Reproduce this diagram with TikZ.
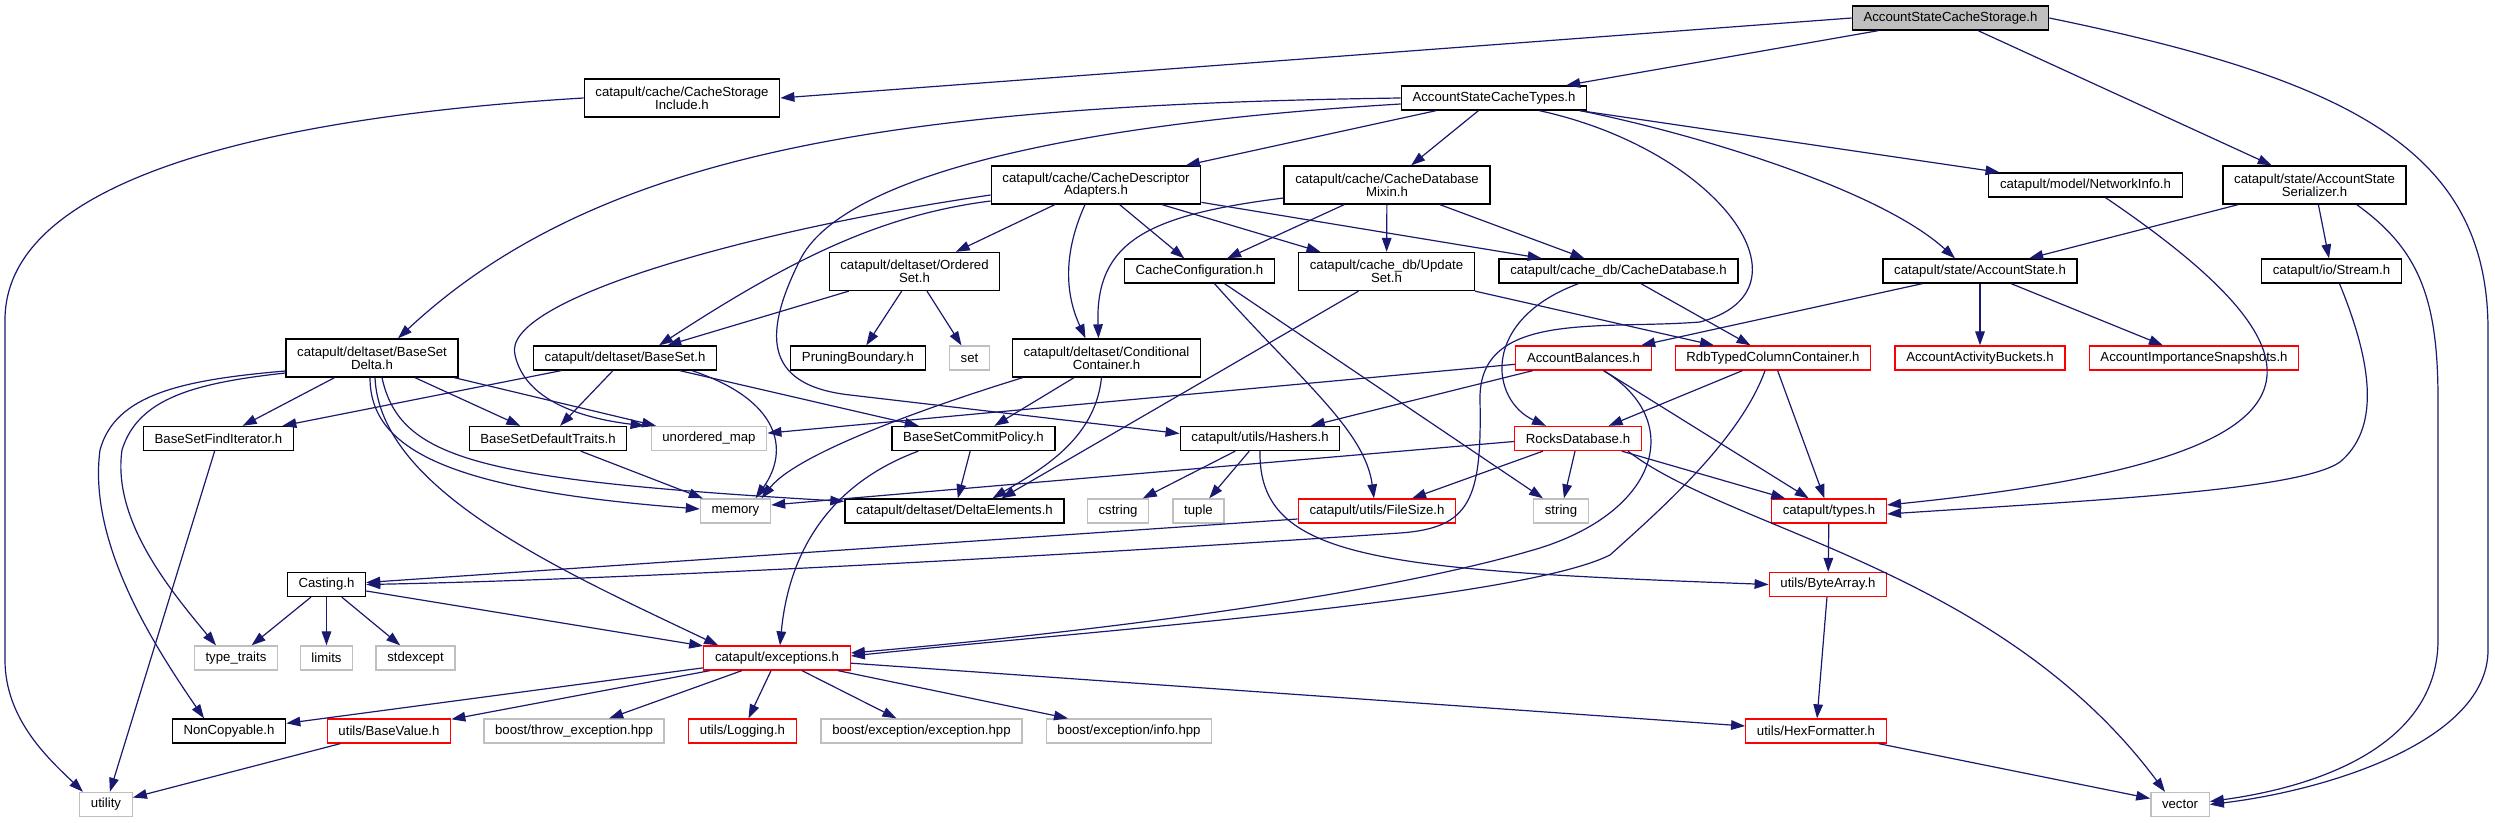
\documentclass[tikz,border=0pt]{standalone}
\usepackage{fontspec}
\setmainfont{Liberation Sans}
\usetikzlibrary{arrows.meta,calc}
\definecolor{edgeblue}{HTML}{191970}
\definecolor{boxgray}{HTML}{BFBFBF}

\begin{document}
\begin{tikzpicture}[
  x=0.5pt, y=-0.5pt,
  font=\fontsize{6.6}{6.4}\selectfont,
  box/.style={draw=black, line width=0.65pt, align=center, inner xsep=5.6pt, inner ysep=1pt, minimum height=12pt},
  two/.style={minimum height=19pt},
  extbox/.style={box, draw=boxgray},
  redbox/.style={box, draw=red},
  arr/.style={-{Triangle[length=7pt,width=4.8pt]}, edgeblue, line width=0.6pt}
]
\useasboundingbox (0,0) rectangle (2495,823);
\node[box, fill=boxgray] (root) at (1950.5,18) {AccountStateCacheStorage.h};
\node[box, two] (csi) at (682,98) {catapult/cache/CacheStorage\\Include.h};
\node[box] (types) at (1494,98) {AccountStateCacheTypes.h};
\node[box, two] (cda) at (1096,185) {catapult/cache/CacheDescriptor\\Adapters.h};
\node[box, two] (cdm) at (1387,185) {catapult/cache/CacheDatabase\\Mixin.h};
\node[box] (netinfo) at (2085.5,185) {catapult/model/NetworkInfo.h};
\node[box, two] (ser) at (2314.5,185) {catapult/state/AccountState\\Serializer.h};
\node[box, two] (oset) at (914.5,271.5) {catapult/deltaset/Ordered\\Set.h};
\node[box] (cconf) at (1199.5,271) {CacheConfiguration.h};
\node[box, two] (uset) at (1386.5,271.5) {catapult/cache\_db/Update\\Set.h};
\node[box] (cdb) at (1618.5,271) {catapult/cache\_db/CacheDatabase.h};
\node[box] (astate) at (1980,271) {catapult/state/AccountState.h};
\node[box] (stream) at (2331.5,271) {catapult/io/Stream.h};
\node[box, two] (bsdelta) at (372,358) {catapult/deltaset/BaseSet\\Delta.h};
\node[box] (bset) at (625,358) {catapult/deltaset/BaseSet.h};
\node[box] (prune) at (858,358) {PruningBoundary.h};
\node[extbox] (set) at (969.5,358) {set};
\node[box, two] (cond) at (1106.5,358) {catapult/deltaset/Conditional\\Container.h};
\node[redbox] (abal) at (1583.5,358) {AccountBalances.h};
\node[redbox] (rdb) at (1773,358) {RdbTypedColumnContainer.h};
\node[redbox] (buckets) at (1980,358) {AccountActivityBuckets.h};
\node[redbox] (snaps) at (2194,358) {AccountImportanceSnapshots.h};
\node[box] (finditer) at (218.5,438.5) {BaseSetFindIterator.h};
\node[box] (deftraits) at (548,438.5) {BaseSetDefaultTraits.h};
\node[extbox] (umap) at (709,438.5) {unordered\_map};
\node[box] (commit) at (973.5,438.5) {BaseSetCommitPolicy.h};
\node[box] (hashers) at (1260,438.5) {catapult/utils/Hashers.h};
\node[redbox] (rocks) at (1578,438.5) {RocksDatabase.h};
\node[extbox] (memory) at (735.5,511) {memory};
\node[box] (delta) at (954.5,511) {catapult/deltaset/DeltaElements.h};
\node[extbox] (cstring) at (1118,511) {cstring};
\node[extbox] (tuple) at (1198.5,511) {tuple};
\node[redbox] (filesize) at (1377,511) {catapult/utils/FileSize.h};
\node[extbox] (string) at (1561,511) {string};
\node[redbox] (ctypes) at (1829,511) {catapult/types.h};
\node[box] (casting) at (326.5,584.5) {Casting.h};
\node[redbox] (bytearr) at (1828,584.5) {utils/ByteArray.h};
\node[extbox] (ttraits) at (236,658) {type\_traits};
\node[extbox] (limits) at (326.5,658) {limits};
\node[extbox] (stdexc) at (415.5,658) {stdexcept};
\node[redbox] (exc) at (777,658) {catapult/exceptions.h};
\node[box] (noncopy) at (229,731) {NonCopyable.h};
\node[redbox] (basevalue) at (389,731) {utils/BaseValue.h};
\node[extbox] (throwexc) at (574,731) {boost/throw\_exception.hpp};
\node[redbox] (logging) at (742.5,731) {utils/Logging.h};
\node[extbox] (bexc) at (921.5,731) {boost/exception/exception.hpp};
\node[extbox] (binfo) at (1129,731) {boost/exception/info.hpp};
\node[redbox] (hexfmt) at (1816,731) {utils/HexFormatter.h};
\node[extbox] (utility) at (106,804.5) {utility};
\node[extbox] (vector) at (2180,804.5) {vector};
\draw[arr] (root.west) -- (csi.east);
\draw[arr] (root) -- (types);
\draw[arr] (root) -- (ser);
\draw[arr] (root.east) .. controls (2350,80) and (2488,150) .. (2488,330) -- (2488,650) .. controls (2488,740) and (2330,790) .. (vector.east);
\draw[arr] (csi.west) .. controls (300,115) and (5,170) .. (5,320) -- (5,660) .. controls (5,720) and (50,760) .. ($(utility.north)+(-23,0)$);
\draw[arr] (types.west) .. controls (900,105) and (600,150) .. ($(bsdelta.north)+(26,0)$);
\draw[arr] ($(types.west)+(0,6)$) .. controls (1050,125) and (840,180) .. (800,260) .. controls (765,330) and (760,385) .. (850,395) -- ($(hashers.west)+(0,-5)$);
\draw[arr] (types) -- (cda);
\draw[arr] (types) -- (cdm);
\draw[arr] ($(types.south east)+(-48,0)$) .. controls (1720,150) and (1820,290) .. (1700,322) .. controls (1600,330) and (1478,310) .. (1480,400) .. controls (1482,500) and (1470,528) .. (1400,533) .. controls (1000,560) and (600,580) .. (casting.east);
\draw[arr] ($(types.south east)+(-7,0)$) .. controls (1700,135) and (1880,190) .. ($(astate.north)+(-25,0)$);
\draw[arr] (types) -- (netinfo);
\draw[arr] (cda) -- (oset);
\draw[arr] ($(cda.south)+(-11,0)$) .. controls (1060,260) and (1068,300) .. ($(cond.north)+(-21,0)$);
\draw[arr] (cda) -- (cconf);
\draw[arr] (cda) -- (uset);
\draw[arr] (cda) -- (cdb);
\draw[arr] ($(cda.west)+(0,16)$) .. controls (880,215) and (790,260) .. ($(bset.north)+(34,0)$);
\draw[arr] ($(cda.west)+(0,10)$) .. controls (750,230) and (500,300) .. (515,355) .. controls (525,400) and (580,418) .. ($(umap.north west)+(-6,0)$);
\draw[arr] (cdm) -- (cconf);
\draw[arr] (cdm) -- (uset);
\draw[arr] (cdm) -- (cdb);
\draw[arr] ($(cdm.west)+(0,13)$) .. controls (1150,215) and (1095,240) .. ($(cond.north)+(-8,0)$);
\draw[arr] ($(netinfo.south)+(20,0)$) .. controls (2360,370) and (2330,460) .. ($(ctypes.east)+(0,-6)$);
\draw[arr] (ser) -- (astate);
\draw[arr] (ser) -- (stream);
\draw[arr] ($(ser.south east)+(-50,0)$) .. controls (2420,250) and (2438,300) .. (2438,400) -- (2438,640) .. controls (2438,740) and (2330,785) .. ($(vector.east)+(0,-3)$);
\draw[arr] ($(stream.south)+(8,0)$) .. controls (2375,370) and (2378,430) .. (2340,462) .. controls (2300,490) and (2100,500) .. ($(ctypes.east)+(0,3)$);
\draw[arr] (astate) -- (abal);
\draw[arr] (astate) -- (buckets);
\draw[arr] (astate) -- (snaps);
\draw[arr] ($(cconf.south)+(15,0)$) .. controls (1300,380) and (1365,430) .. ($(filesize.north)+(-3,0)$);
\draw[arr] ($(cconf.south)+(25,0)$) -- ($(string.north)+(-18,0)$);
\draw[arr] ($(uset.south)+(-28,0)$) -- ($(delta.north)+(47,0)$);
\draw[arr] (uset.south east) -- ($(rdb.north)+(-59,0)$);
\draw[arr] (cdb) -- (rdb);
\draw[arr] ($(cdb.south)+(-40,0)$) .. controls (1480,320) and (1490,400) .. ($(rocks.north)+(-32,0)$);
\draw[arr] (abal) -- (umap);
\draw[arr] (abal) -- (hashers);
\draw[arr] (abal) -- (ctypes);
\draw[arr] ($(abal.south)+(20,0)$) .. controls (1685,420) and (1660,510) .. (1540,548) .. controls (1350,605) and (1000,640) .. ($(exc.east)+(0,-5)$);
\draw[arr] (rdb) -- (rocks);
\draw[arr] (rdb) -- (ctypes);
\draw[arr] ($(rdb.south)+(-8,0)$) .. controls (1740,440) and (1660,510) .. (1610,555) .. controls (1520,600) and (1100,630) .. ($(exc.east)+(0,-2)$);
\draw[arr] ($(rocks.west)+(0,3)$) -- ($(memory.east)+(0,-6)$);
\draw[arr] (rocks) -- (filesize);
\draw[arr] (rocks) -- (string);
\draw[arr] (rocks) -- (ctypes);
\draw[arr] ($(rocks.south)+(50,0)$) .. controls (1730,530) and (2000,570) .. ($(vector.north)+(-15,0)$);
\draw[arr] (hashers) -- (cstring);
\draw[arr] (hashers) -- (tuple);
\draw[arr] (hashers.south) .. controls (1258,560) and (1380,570) .. (bytearr.west);
\draw[arr] ($(filesize.west)+(0,8)$) -- ($(casting.east)+(0,-2)$);
\draw[arr] (ctypes) -- (bytearr);
\draw[arr] (bytearr) -- (hexfmt);
\draw[arr] (hexfmt) -- (vector);
\draw[arr] (casting) -- (ttraits);
\draw[arr] (casting) -- (limits);
\draw[arr] (casting) -- (stdexc);
\draw[arr] (casting) -- (exc);
\draw[arr] (exc) -- (noncopy);
\draw[arr] (exc) -- (basevalue);
\draw[arr] (exc) -- (throwexc);
\draw[arr] (exc) -- (logging);
\draw[arr] (exc) -- (bexc);
\draw[arr] (exc) -- (binfo);
\draw[arr] (exc) -- (hexfmt);
\draw[arr] (basevalue) -- (utility);
\draw[arr] (finditer) -- (utility);
\draw[arr] (deftraits) -- (memory);
\draw[arr] (commit) -- (delta);
\draw[arr] ($(commit.south west)+(27,0)$) .. controls (840,480) and (790,540) .. ($(exc.north)+(3,0)$);
\draw[arr] (oset) -- (bset);
\draw[arr] (oset) -- (prune);
\draw[arr] (oset) -- (set);
\draw[arr] (bset) -- (finditer);
\draw[arr] (bset) -- (deftraits);
\draw[arr] (bset) -- (commit);
\draw[arr] ($(bset.south)+(67,0)$) .. controls (780,400) and (790,450) .. ($(memory.north)+(20,0)$);
\draw[arr] ($(cond.south west)+(11,0)$) .. controls (950,400) and (800,450) .. ($(memory.north)+(26,0)$);
\draw[arr] (cond) -- (commit);
\draw[arr] ($(cond.south)+(-5,0)$) .. controls (1095,440) and (1040,470) .. ($(delta.north)+(38,0)$);
\draw[arr] (bsdelta) -- (finditer);
\draw[arr] (bsdelta) -- (deftraits);
\draw[arr] (bsdelta) -- (umap);
\draw[arr] ($(bsdelta.south)+(-2,0)$) .. controls (370,450) and (450,490) .. ($(memory.west)+(0,-2)$);
\draw[arr] ($(bsdelta.south)+(3,0)$) .. controls (380,490) and (560,570) .. ($(exc.north west)+(15,0)$);
\draw[arr] ($(bsdelta.south)+(10,0)$) .. controls (400,460) and (480,480) .. ($(delta.north west)+(0,3)$);
\draw[arr] ($(bsdelta.west)+(0,15)$) .. controls (195,383) and (138,398) .. (122,450) .. controls (112,520) and (170,590) .. ($(ttraits.north)+(-20,0)$);
\draw[arr] ($(bsdelta.west)+(0,13)$) .. controls (180,380) and (115,395) .. (100,450) .. controls (88,540) and (150,640) .. ($(noncopy.north)+(-25,0)$);
\end{tikzpicture}
\end{document}
